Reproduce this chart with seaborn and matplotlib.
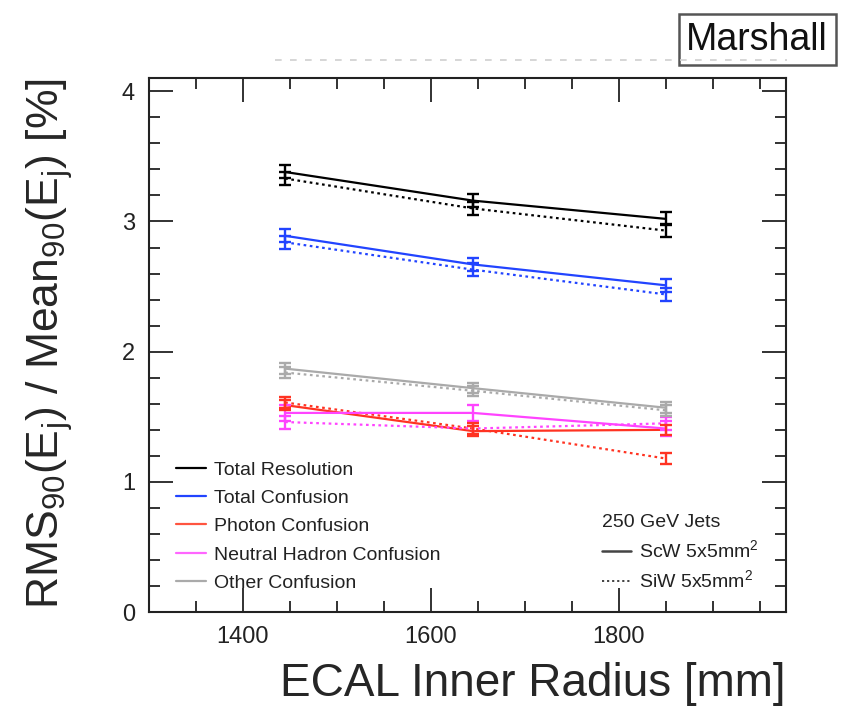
import pandas as pd
import matplotlib.pyplot as plt
import seaborn as sns
from matplotlib.lines import Line2D
from matplotlib.ticker import MultipleLocator

# === DATA ===
radius = [1445, 1645, 1850]
components = ['Total Resolution', 'Total Confusion', 'Photon Confusion',
              'Neutral Hadron Confusion', 'Other Confusion']

# ScW 5x5mm2 (solid lines)
scw_total_res = [3.38, 3.16, 3.02]
scw_total_conf = [2.89, 2.67, 2.51]
scw_photon = [1.59, 1.39, 1.40]
scw_neutral = [1.53, 1.53, 1.41]
scw_other = [1.87, 1.72, 1.57]

# SiW 5x5mm2 (dotted lines)
siw_total_res = [3.33, 3.10, 2.93]
siw_total_conf = [2.84, 2.63, 2.44]
siw_photon = [1.61, 1.41, 1.18]
siw_neutral = [1.46, 1.41, 1.45]
siw_other = [1.84, 1.70, 1.55]

# error bar half widths
scw_err = [0.05, 0.05, 0.04, 0.06, 0.04]
siw_err = [0.05, 0.05, 0.04, 0.05, 0.04]

colors = ['black', '#2244ff', '#ff3322', '#ff44ff', '#aaaaaa']
legend_colors = ['black', '#2244ff', '#ff5540', '#ff66ff', '#aaaaaa']

# === LONG TABLE ===
rows = []
scw = [scw_total_res, scw_total_conf, scw_photon, scw_neutral, scw_other]
siw = [siw_total_res, siw_total_conf, siw_photon, siw_neutral, siw_other]
for i, comp in enumerate(components):
    for r, v in zip(radius, scw[i]):
        rows.append((r, v, scw_err[i], comp, 'ScW'))
    for r, v in zip(radius, siw[i]):
        rows.append((r, v, siw_err[i], comp, 'SiW'))
df = pd.DataFrame(rows, columns=['radius', 'value', 'err', 'component', 'ecal'])

# === PLOT ===
sns.set_style('ticks')
plt.rcParams['font.family'] = ['Liberation Sans', 'DejaVu Sans']
plt.rcParams['mathtext.fontset'] = 'custom'
plt.rcParams['mathtext.rm'] = 'Liberation Sans'
plt.rcParams['mathtext.it'] = 'Liberation Sans'

fig = plt.figure(figsize=(8.46, 7.11), dpi=100)
ax = fig.add_axes([0.176, 0.139, 0.753, 0.751])

sns.lineplot(data=df, x='radius', y='value', hue='component', style='ecal',
             hue_order=components, style_order=['ScW', 'SiW'],
             palette=dict(zip(components, colors)),
             dashes={'ScW': '', 'SiW': (1.2, 1.6)},
             linewidth=1.6, legend=False, ax=ax, errorbar=None)

for (comp, ecal), g in df.groupby(['component', 'ecal']):
    c = colors[components.index(comp)]
    ax.errorbar(g['radius'], g['value'], yerr=g['err'], fmt='none',
                ecolor=c, elinewidth=1.7, capsize=4.5, capthick=1.7,
                linestyle=':' if ecal == 'SiW' else '-')

ax.set_xlim(1300, 1978)
ax.set_ylim(0, 4.1)
ax.xaxis.set_major_locator(MultipleLocator(200))
ax.xaxis.set_minor_locator(MultipleLocator(50))
ax.yaxis.set_major_locator(MultipleLocator(1))
ax.yaxis.set_minor_locator(MultipleLocator(0.2))
ax.tick_params(which='both', direction='in', top=True, right=True,
               labelsize=17, colors='#222222', width=1.3)
ax.tick_params(which='major', length=17, pad=10)
ax.tick_params(which='minor', length=8)
for s in ax.spines.values():
    s.set_linewidth(1.5)
    s.set_color('#222222')

ax.set_xlabel('ECAL Inner Radius [mm]', fontsize=33, loc='right', labelpad=10)
ax.set_ylabel('RMS$_{90}$(E$_{j}$) / Mean$_{90}$(E$_{j}$) [%]', fontsize=32,
              loc='top', labelpad=34)

# component legend
comp_handles = [Line2D([], [], color=c, lw=1.6) for c in legend_colors]
leg1 = ax.legend(comp_handles, components, loc='upper left',
                 bbox_to_anchor=(0.042, 0.283), frameon=False, fontsize=14,
                 handlelength=1.55, handletextpad=0.4, labelspacing=0.55,
                 borderpad=0, borderaxespad=0, labelcolor='#222222')
ax.add_artist(leg1)

# detector legend
det_handles = [Line2D([], [], color='#444444', lw=1.8),
               Line2D([], [], color='#333333', lw=1.3, dashes=(1.2, 1.6))]
leg2 = ax.legend(det_handles, ['ScW 5x5mm$^2$', 'SiW 5x5mm$^2$'],
                 loc='upper left', bbox_to_anchor=(0.711, 0.183), frameon=False,
                 fontsize=14, title='250 GeV Jets', title_fontsize=14,
                 alignment='left', handlelength=1.5, handletextpad=0.4,
                 labelspacing=0.42, borderpad=0, borderaxespad=0,
                 labelcolor='#222222')
leg2.get_title().set_color('#222222')

fig.text(0.895, 0.944, 'Marshall', fontsize=27, ha='center', va='center',
         color='#111111',
         bbox=dict(boxstyle='square,pad=0.2', facecolor='white',
                   edgecolor='#555555', linewidth=1.8))

# clipped title remnant above the frame
fig.add_artist(Line2D([0.325, 0.93], [0.915, 0.915], color='#d0d0d0', lw=1.2,
                      dashes=(4, 5), transform=fig.transFigure, zorder=10))

fig.savefig('out.png', dpi=100)
